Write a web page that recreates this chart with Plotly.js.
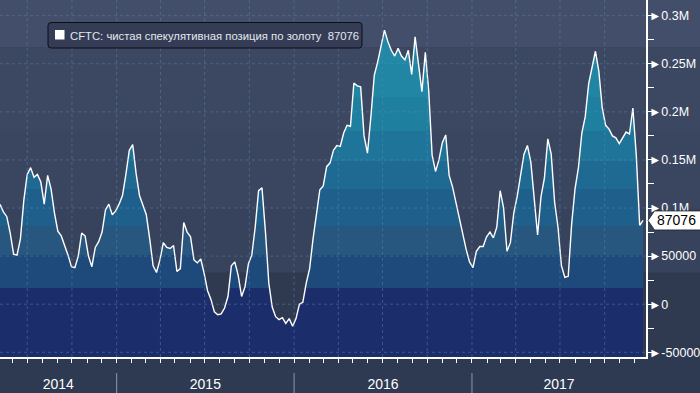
<!DOCTYPE html>
<html><head><meta charset="utf-8">
<script src="https://cdn.plot.ly/plotly-3.0.1.min.js"></script>
<style>html,body{margin:0;padding:0;background:#2d3a52;} #chart{width:700px;height:393px;}</style>
</head><body><div id="chart"></div>
<script>
// ---- data ----
const firstWeek = '2014-05-06';   // weekly CFTC reports (Tuesdays)
const netSpec = [
  104000, 96000, 91000, 74000, 52000, 51000, 68000, 108000, 135000, 142000,
  132000, 135000, 127000, 104000, 134000, 120000, 95000, 76000, 71000, 62000,
  51000, 39000, 38000, 50000, 74000, 71000, 50000, 39000, 59000, 65000,
  75000, 98000, 104000,
  93000, 97000, 104000, 113000, 135000, 160000, 166000, 136000, 113000, 104000,
  93000, 68000, 40000, 33000, 46000, 64000, 59000, 58000, 61000, 34000,
  37000, 85000, 75000, 70000, 46000, 43000, 47000, 32000, 14000, 5000, -8000,
  -11000, -10000, -4000, 8000, 40000, 44000, 30000, 8000, 18000, 42000,
  51000, 80000, 118000, 121000, 76000, 22000, -3000, -13000, -16000, -14000,
  -20000, -15000, -23000, -15000, 0, 2000, 22000, 37000, 68000, 96000, 119000,
  123000, 143000, 147000, 160000, 165000, 164000, 178000, 186000, 185000, 230000,
  227000, 226000, 175000, 157000, 195000, 238000, 252000, 270000, 285000, 273000,
  264000, 258000, 266000, 258000, 254000, 264000, 239000, 278000, 252000, 221000,
  262000, 222000, 155000, 138000, 150000, 168000, 176000, 134000, 122000, 105000,
  88000, 72000, 57000, 44000, 38000, 55000, 60000, 60000, 70000, 75000,
  69000, 80000, 118000, 100000, 55000, 64000, 95000, 112000, 136000, 156000, 165000,
  148000, 110000, 72000, 112000, 131000, 172000, 156000, 106000, 80000, 40000,
  28000, 29000, 83000, 120000, 142000, 178000, 195000, 229000, 246000, 263000,
  242000, 204000, 186000, 182000, 175000, 173000, 167000, 173000, 179000, 177000,
  204000, 155000, 82000, 87076
];
const seriesName = 'CFTC: чистая спекулятивная позиция по золоту';
const years = ['2014', '2015', '2016', '2017'];
const yTickVals = [-50000, 0, 50000, 100000, 150000, 200000, 250000, 300000];
const yTickText = ['-50000', '0', '50000', '0.1M', '0.15M', '0.2M', '0.25M', '0.3M'];
const quarterStarts = ['2014-07-01','2014-10-01','2015-01-01','2015-04-01','2015-07-01','2015-10-01',
  '2016-01-01','2016-04-01','2016-07-01','2016-10-01','2017-01-01','2017-04-01','2017-07-01','2017-10-01'];

// ---- layout constants ----
const FONT = 'Liberation Sans, Arial, sans-serif';
const W = 700, H = 393, ML = 0, MR = 54, MT = 0, MB = 36;
const PW = W - ML - MR, PH = H - MT - MB;
const xRange = ['2014-05-06', '2017-12-25'];
const yMin = -54900, yMax = 316300;

const dayMs = 86400000;
const t0 = Date.parse(firstWeek + 'T00:00:00Z');
const dates = netSpec.map((_, i) => new Date(t0 + i * 7 * dayMs).toISOString().slice(0, 10));

// year label centres = middle of the visible part of each year
const rs = Date.parse(xRange[0] + 'T00:00:00Z'), re = Date.parse(xRange[1] + 'T00:00:00Z');
const yearCenters = years.map(y => {
  const a = Math.max(rs, Date.UTC(+y, 0, 1)), b = Math.min(re, Date.UTC(+y + 1, 0, 1));
  return new Date((a + b) / 2).toISOString().slice(0, 19).replace('T', ' ');
});

// fill gradient bands (value thresholds -> colour)
const fillBands = [
  [16600, '#1b2e6b'], [50800, '#1e4a7b'], [81000, '#27567f'], [120000, '#1f5f8b'],
  [149000, '#1e6a93'], [180000, '#1e7599'], [215000, '#1f7f9f'], [250000, '#2086a4'], [yMax, '#2189a6']
];
const fillScale = [];
let prev = 0;
fillBands.forEach(([v, c]) => {
  const f = Math.min(1, (v - yMin) / (yMax - yMin));
  fillScale.push([prev, c]); fillScale.push([f, c]); prev = f;
});

const bgBands = [
  [yMin, 33000, '#2f3a51'], [33000, 100000, '#37425c'], [100000, 180000, '#3a4560'],
  [180000, 267000, '#3c4762'], [267000, yMax, '#434e6a']
];

const shapes = [];
bgBands.forEach(([a, b, c]) => shapes.push({type:'rect', layer:'below', xref:'paper', yref:'y',
  x0:0, x1:W / PW, y0:a, y1:b, fillcolor:c, line:{width:0}}));

const gridStyle = {color:'rgba(92,140,180,0.45)', width:1, dash:'3px,3px'};
yTickVals.forEach(v => shapes.push({type:'line', layer:'above', xref:'paper', yref:'y', x0:0, x1:1, y0:v, y1:v, line:gridStyle}));
quarterStarts.forEach(d => shapes.push({type:'line', layer:'above', xref:'x', yref:'paper', x0:d, x1:d, y0:0, y1:1, line:gridStyle}));

// year separators in the axis band
years.slice(1).forEach(y => shapes.push({type:'line', xref:'x', yref:'paper', x0:y + '-01-01', x1:y + '-01-01',
  y0:-16 / PH, y1:-36 / PH, line:{color:'#8e97a8', width:1}}));

// legend box (rounded) + white square
shapes.push({type:'path', layer:'above', xref:'paper', yref:'paper', xsizemode:'pixel', ysizemode:'pixel', xanchor:0, yanchor:1,
  path:'M 51,-22.5 L 359,-22.5 Q 362,-22.5 362,-25.5 L 362,-45 Q 362,-48 359,-48 L 51,-48 Q 48,-48 48,-45 L 48,-25.5 Q 48,-22.5 51,-22.5 Z',
  fillcolor:'#343d55', line:{color:'#0b0f18', width:1}});
shapes.push({type:'rect', layer:'above', xref:'paper', yref:'paper', xsizemode:'pixel', ysizemode:'pixel', xanchor:0, yanchor:1,
  x0:55, x1:64.5, y0:-30, y1:-39.5, fillcolor:'#ffffff', line:{width:0}});

// last-value tag on the right axis
const lastVal = netSpec[netSpec.length - 1];
shapes.push({type:'path', layer:'above', xref:'paper', yref:'y', xsizemode:'pixel', ysizemode:'pixel', xanchor:1, yanchor:lastVal,
  path:'M 2,0 L 8.5,9.5 L 56,9.5 L 56,-9.5 L 8.5,-9.5 Z', fillcolor:'#ffffff', line:{color:'#1a1f2b', width:0.8}});

const annotations = [
  {xref:'paper', yref:'paper', x:0, y:1, xshift:68, yshift:-35.5, xanchor:'left', yanchor:'middle', showarrow:false,
   text: seriesName + '\u00a0\u00a0' + String(lastVal), font:{family:FONT, size:11.3, color:'#e4e7ee'}},
  {xref:'paper', yref:'y', x:1, y:lastVal, xshift:9, xanchor:'left', yanchor:'middle', showarrow:false,
   text:String(lastVal), font:{family:FONT, size:14, color:'#000000'}}
];

const traces = [
  {x:dates, y:dates.map(() => yMin - 20000), mode:'lines', line:{width:0, color:'rgba(0,0,0,0)'}, hoverinfo:'skip', showlegend:false},
  {x:dates, y:netSpec, name:seriesName, mode:'lines', line:{color:'#ffffff', width:1.4},
   fill:'tonexty', fillcolor:'#1f5f8b',
   fillgradient:{type:'vertical', start:yMin, stop:yMax, colorscale:fillScale}, showlegend:false}
];

const layout = {
  width:W, height:H, margin:{l:ML, r:MR, t:MT, b:MB, pad:0},
  paper_bgcolor:'#2d3a52', plot_bgcolor:'rgba(0,0,0,0)', showlegend:false,
  xaxis:{type:'date', range:xRange, showgrid:false, zeroline:false, showline:true, linecolor:'#ffffff', linewidth:1.5,
    tickmode:'array', tickvals:yearCenters, ticktext:years, ticks:'', ticklabelstandoff:14,
    tickfont:{family:FONT, size:14, color:'#ffffff'},
    minor:{tickmode:'linear', tick0:'2014-01-01', dtick:'M1', ticks:'outside', ticklen:4, tickcolor:'#ffffff', tickwidth:1, showgrid:false}},
  yaxis:{range:[yMin, yMax], side:'right', showgrid:false, zeroline:false, showline:true, linecolor:'#ffffff', linewidth:1.5,
    tickmode:'array', tickvals:yTickVals, ticktext:yTickText.map(t => '\u25BA' + t), ticks:'', ticklabelstandoff:-1,
    tickfont:{family:FONT, size:12.5, color:'#ffffff'},
    minor:{tickmode:'linear', tick0:0, dtick:25000, ticks:'outside', ticklen:6, tickcolor:'#ffffff', showgrid:false}},
  shapes, annotations
};

Plotly.newPlot('chart', traces, layout, {displayModeBar:false, staticPlot:true});
</script>
</body></html>
